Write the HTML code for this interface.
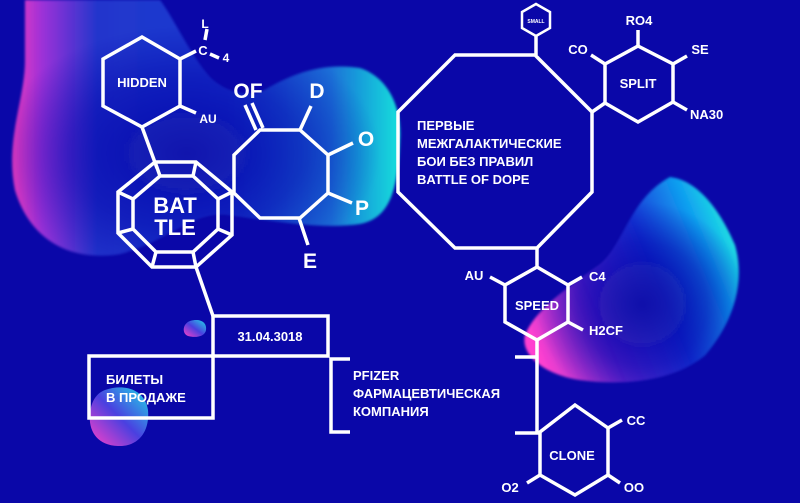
<!DOCTYPE html>
<html><head><meta charset="utf-8"><style>
html,body{margin:0;padding:0;background:#0a07a8;}
svg{display:block}
text{font-family:"Liberation Sans","DejaVu Sans",sans-serif;font-weight:bold;fill:#fff}
</style></head><body>
<svg width="800" height="503" viewBox="0 0 800 503" xmlns="http://www.w3.org/2000/svg">
<defs>
<filter id="bl" x="-20%" y="-20%" width="140%" height="140%"><feGaussianBlur stdDeviation="1.2"/></filter>
<linearGradient id="g1" x1="0" y1="0" x2="1" y2="0">
<stop offset="0" stop-color="#f03cc0"/><stop offset="0.08" stop-color="#9a30d8"/><stop offset="0.22" stop-color="#2236cc"/><stop offset="0.55" stop-color="#1a3ad0"/><stop offset="0.82" stop-color="#1a70d8"/><stop offset="1" stop-color="#18e0dc"/>
</linearGradient>
<linearGradient id="g2" x1="0" y1="0.7" x2="1" y2="0.3">
<stop offset="0" stop-color="#ff40d0"/><stop offset="0.3" stop-color="#6a28d0"/><stop offset="0.6" stop-color="#1838d8"/><stop offset="0.85" stop-color="#10a0f0"/><stop offset="1" stop-color="#20e8e0"/>
</linearGradient>
<linearGradient id="g3" x1="0" y1="1" x2="1" y2="0">
<stop offset="0" stop-color="#ff40c8"/><stop offset="0.5" stop-color="#4a40e0"/><stop offset="1" stop-color="#20d8e8"/>
</linearGradient>
<radialGradient id="dk1" cx="0.45" cy="0.6" r="0.5"><stop offset="0" stop-color="#0a0aa8" stop-opacity="0.85"/><stop offset="0.6" stop-color="#0a0aa8" stop-opacity="0.45"/><stop offset="1" stop-color="#0a0aa8" stop-opacity="0"/></radialGradient>
<radialGradient id="dk2" cx="0.55" cy="0.62" r="0.5"><stop offset="0" stop-color="#0a0aa8" stop-opacity="0.95"/><stop offset="0.6" stop-color="#0a0aa8" stop-opacity="0.5"/><stop offset="1" stop-color="#0a0aa8" stop-opacity="0"/></radialGradient>
</defs>
<rect width="800" height="503" fill="#0a07a8"/>
<path id="b1" filter="url(#bl)" fill="url(#g1)" d="M25,0 L160,0 C175,20 190,55 210,78 C225,92 245,98 262,92 C290,75 320,62 360,68 C390,78 402,110 400,140 C398,190 390,218 360,224 C320,230 270,220 225,214 C190,212 170,240 120,254 C70,262 30,240 15,190 C5,140 25,100 25,60 Z"/>
<path filter="url(#bl)" fill="url(#dk1)" d="M25,0 L160,0 C175,20 190,55 210,78 C225,92 245,98 262,92 C290,75 320,62 360,68 C390,78 402,110 400,140 C398,190 390,218 360,224 C320,230 270,220 225,214 C190,212 170,240 120,254 C70,262 30,240 15,190 C5,140 25,100 25,60 Z"/>
<path filter="url(#bl)" fill="url(#g2)" d="M670,177 C695,180 718,205 735,245 C745,280 735,320 705,355 C675,380 625,386 580,380 C545,375 520,355 525,335 C535,310 565,290 600,265 C625,245 628,200 670,177 Z"/>
<path filter="url(#bl)" fill="url(#dk2)" d="M670,177 C695,180 718,205 735,245 C745,280 735,320 705,355 C675,380 625,386 580,380 C545,375 520,355 525,335 C535,310 565,290 600,265 C625,245 628,200 670,177 Z"/>
<path fill="url(#g3)" d="M190,321 C200,318 207,322 206,330 C205,337 195,338 188,336 C182,334 182,324 190,321 Z"/>
<path fill="url(#g3)" d="M105,390 C125,383 145,390 148,410 C150,432 138,447 118,446 C96,445 88,430 90,412 C92,400 97,393 105,390 Z"/>

<g stroke="#fff" stroke-width="3.5" fill="none" stroke-linejoin="miter" stroke-linecap="butt">
<polygon points="142,37 180,59 180,106 142,127 103,106 103,59"/>
<line x1="180" y1="59" x2="196" y2="51"/>
<line x1="207" y1="29" x2="205" y2="40"/>
<line x1="210" y1="54" x2="219" y2="58"/>
<line x1="180" y1="106" x2="196" y2="113"/>
<line x1="142" y1="127" x2="157" y2="168"/>
<polygon points="155,162 196,162 232,192 232,235 196,267 152,267 118,233 118,192"/>
<polygon points="160,176 193,176 218,199 218,229 193,252 156,252 133,229 133,199"/>
<line x1="155" y1="162" x2="160" y2="176"/><line x1="196" y1="162" x2="193" y2="176"/>
<line x1="232" y1="192" x2="218" y2="199"/><line x1="232" y1="235" x2="218" y2="229"/>
<line x1="196" y1="267" x2="193" y2="252"/><line x1="152" y1="267" x2="156" y2="252"/>
<line x1="118" y1="233" x2="133" y2="229"/><line x1="118" y1="192" x2="133" y2="199"/>
<line x1="196" y1="267" x2="213" y2="316"/>
<polygon points="260,130 300,130 328,155 328,193 300,218 260,218 234,193 234,155"/>
<line x1="256" y1="130" x2="245" y2="105"/><line x1="263" y1="128" x2="252" y2="103"/>
<line x1="300" y1="130" x2="311" y2="106"/>
<line x1="328" y1="155" x2="353" y2="143"/>
<line x1="328" y1="193" x2="352" y2="203"/>
<line x1="299" y1="218" x2="308" y2="245"/>
<polygon points="455,55 535,55 592,112 592,192 537,248 455,248 398,192 398,112"/>
<polygon points="536,4 550,12 550,28 536,36 522,28 522,12" stroke-width="2.5"/>
<line x1="536" y1="36" x2="536" y2="55"/>
<polygon points="638,46 673,64 673,102 638,122 605,103 605,64"/>
<line x1="605" y1="103" x2="592" y2="112"/>
<line x1="638" y1="46" x2="638" y2="30"/>
<line x1="605" y1="64" x2="591" y2="55"/>
<line x1="673" y1="64" x2="687" y2="56"/>
<line x1="673" y1="102" x2="687" y2="110"/>
<line x1="537" y1="248" x2="537" y2="267"/>
<polygon points="537,267 568,285 568,322 537,340 505,322 505,285"/>
<line x1="505" y1="285" x2="490" y2="277"/>
<line x1="568" y1="285" x2="582" y2="277"/>
<line x1="568" y1="322" x2="583" y2="330"/>
<line x1="537" y1="340" x2="537" y2="432"/>
<line x1="515" y1="357" x2="537" y2="357"/>
<line x1="515" y1="433" x2="540" y2="433"/>
<polygon points="575,405 608,428 608,475 575,495 540,475 540,432"/>
<line x1="608" y1="428" x2="622" y2="420"/>
<line x1="608" y1="475" x2="620" y2="483"/>
<line x1="540" y1="475" x2="527" y2="483"/>
<rect x="213" y="316" width="115" height="40"/>
<rect x="89" y="356" width="124" height="62"/>
<polyline points="350,359 331,359 331,432 350,432"/>
</g>

<g font-size="13">
<text x="142" y="87" text-anchor="middle">HIDDEN</text>
<text x="205" y="28" text-anchor="middle" font-size="12">L</text>
<text x="203" y="55" text-anchor="middle">C</text>
<text x="226" y="62" text-anchor="middle" font-size="12">4</text>
<text x="208" y="123" text-anchor="middle" font-size="12">AU</text>
<text x="175" y="213" text-anchor="middle" font-size="22">BAT</text>
<text x="175" y="235" text-anchor="middle" font-size="22">TLE</text>
<text x="248" y="98" text-anchor="middle" font-size="21">OF</text>
<text x="317" y="98" text-anchor="middle" font-size="21">D</text>
<text x="366" y="146" text-anchor="middle" font-size="21">O</text>
<text x="362" y="215" text-anchor="middle" font-size="21">P</text>
<text x="310" y="268" text-anchor="middle" font-size="21">E</text>
<text x="536" y="23" text-anchor="middle" font-size="5">SMALL</text>
<text x="417" y="130">ПЕРВЫЕ</text>
<text x="417" y="148">МЕЖГАЛАКТИЧЕСКИЕ</text>
<text x="417" y="166">БОИ БЕЗ ПРАВИЛ</text>
<text x="417" y="184">BATTLE OF DOPE</text>
<text x="638" y="88" text-anchor="middle">SPLIT</text>
<text x="639" y="25" text-anchor="middle">RO4</text>
<text x="578" y="54" text-anchor="middle">CO</text>
<text x="700" y="54" text-anchor="middle">SE</text>
<text x="690" y="119">NA30</text>
<text x="537" y="310" text-anchor="middle">SPEED</text>
<text x="474" y="280" text-anchor="middle">AU</text>
<text x="589" y="281">C4</text>
<text x="589" y="335">H2CF</text>
<text x="572" y="460" text-anchor="middle">CLONE</text>
<text x="636" y="425" text-anchor="middle">CC</text>
<text x="634" y="492" text-anchor="middle">OO</text>
<text x="510" y="492" text-anchor="middle">O2</text>
<text x="270" y="341" text-anchor="middle">31.04.3018</text>
<text x="106" y="384">БИЛЕТЫ</text>
<text x="106" y="402">В ПРОДАЖЕ</text>
<text x="353" y="380">PFIZER</text>
<text x="353" y="398">ФАРМАЦЕВТИЧЕСКАЯ</text>
<text x="353" y="416">КОМПАНИЯ</text>
</g>
</svg>
</body></html>
